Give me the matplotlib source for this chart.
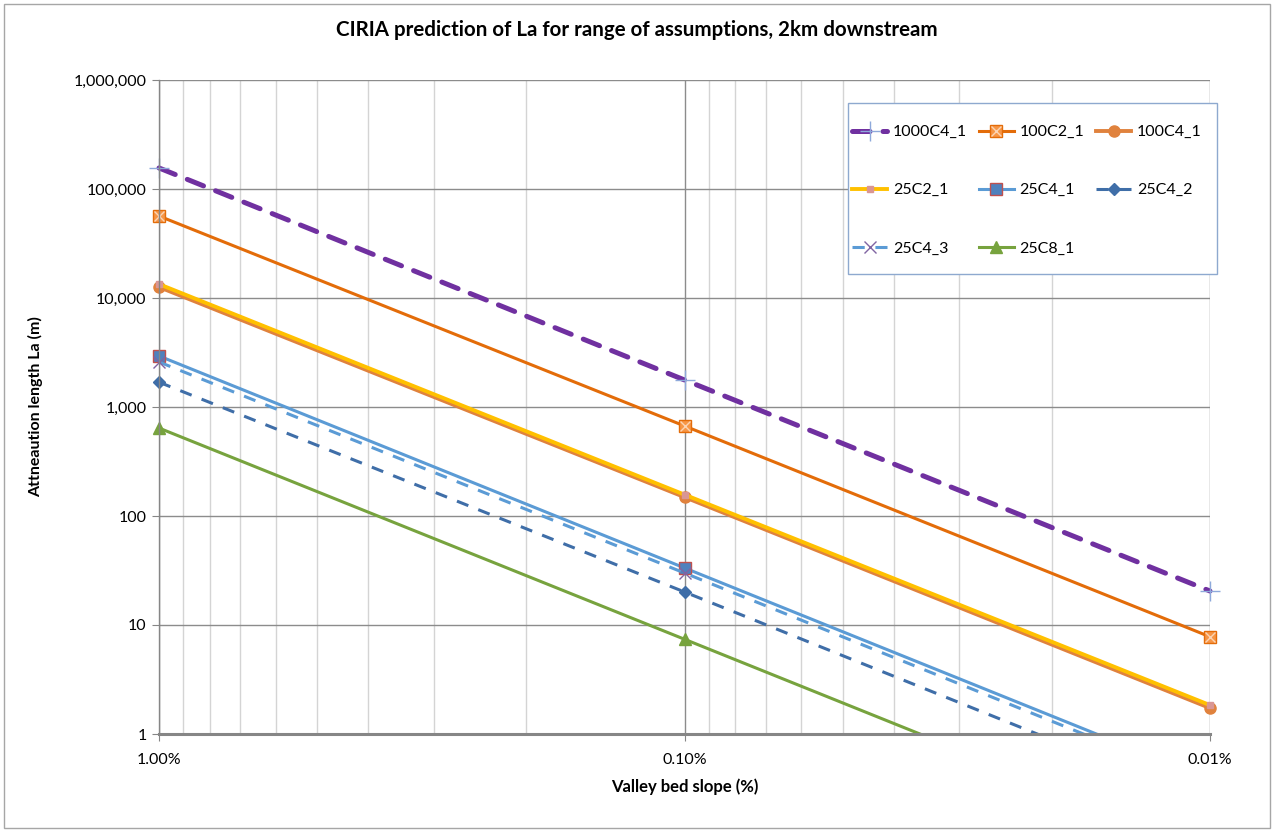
import matplotlib
matplotlib.use("Agg")
import matplotlib.pyplot as plt
import numpy as np
from matplotlib.ticker import FixedLocator, FuncFormatter, NullLocator
from matplotlib.patches import Rectangle

plt.rcParams['font.family'] = ['Lato', 'DejaVu Sans']

# valley bed slope (%) and attenuation length La (m) per series
slope = [1.0, 0.1, 0.01]
la_1000c4_1 = [156000, 1770, 20.5]
la_100c2_1 = [56500, 670, 7.8]
la_100c4_1 = [12600, 149, 1.73]
la_25c2_1 = [13400, 157, 1.84]
la_25c4_1 = [2940, 33.4, 0.38]
la_25c4_2 = [1690, 20.1, 0.23]
la_25c4_3 = [2590, 30.0, 0.34]
la_25c8_1 = [641, 7.4, 0.085]

x_ticks = [1.0, 0.1, 0.01]
x_labels = ['1.00%', '0.10%', '0.01%']
y_ticks = [1, 10, 100, 1000, 10000, 100000, 1000000]

W, H = 1274, 832
fig = plt.figure(figsize=(W / 100, H / 100), dpi=100)
ax = fig.add_axes([159 / W, 1 - 734 / H, (1210 - 159) / W, (734 - 80) / H])

# series, in the order the spreadsheet draws them
l1, = ax.plot(slope, la_1000c4_1, color='#7030A0', lw=3.6, dashes=(3.5, 2.6),
              dash_capstyle='round', marker='+', ms=14, mew=1.0, mec='#8EA9DB',
              label='1000C4_1')
l2, = ax.plot(slope, la_100c2_1, color='#E36C09', lw=2.2, marker='s', ms=9,
              mfc='#F79646', mec='#E36C09', label='100C2_1')
l2x, = ax.plot(slope, la_100c2_1, ls='none', marker='x', ms=7, mew=1.0, mec='#FBD4B4')
l3, = ax.plot(slope, la_100c4_1, color='#E0823D', lw=2.8, marker='o', ms=8,
              mfc='#E0823D', mec='#E0823D', label='100C4_1')
l4, = ax.plot(slope, la_25c2_1, color='#FFC000', lw=2.8, marker='s', ms=4,
              mfc='#D99694', mec='#D99694', label='25C2_1')
l5, = ax.plot(slope, la_25c4_1, color='#5B9BD5', lw=2.2, marker='s', ms=8,
              mfc='#4F81BD', mec='#C0504D', mew=1.0, label='25C4_1')
l6, = ax.plot(slope, la_25c4_2, color='#3F6EA8', lw=2.2, dashes=(4, 3.5),
              marker='D', ms=6, mfc='#3F6EA8', mec='#3F6EA8', label='25C4_2')
l7, = ax.plot(slope, la_25c4_3, color='#5B9BD5', lw=2.2, dashes=(4, 3.5),
              marker='x', ms=8, mew=1.0, mec='#8064A2', label='25C4_3')
l8, = ax.plot(slope, la_25c8_1, color='#77A33E', lw=2.2, marker='^', ms=8,
              mfc='#77A33E', mec='#77A33E', label='25C8_1')

# let the end markers spill over the left/right edges like in Excel
for ln in [l1, l2, l2x, l3, l4, l5, l6, l7, l8]:
    ln.set_clip_path(Rectangle((-0.03, 0), 1.06, 1, transform=ax.transAxes))

ax.set_xscale('log')
ax.set_yscale('log')
ax.set_xlim(1.0, 0.01)
ax.set_ylim(1, 1000000)

ax.xaxis.set_major_locator(FixedLocator(x_ticks))
ax.set_xticklabels(x_labels)
ax.xaxis.set_minor_locator(FixedLocator([m * d for d in (0.1, 0.01) for m in range(2, 10)]))
ax.yaxis.set_major_locator(FixedLocator(y_ticks))
ax.yaxis.set_major_formatter(FuncFormatter(lambda v, p: f"{v:,.0f}"))
ax.yaxis.set_minor_locator(NullLocator())

ax.grid(True, which='major', color='#8C8C8C', lw=1.0)
ax.grid(True, which='minor', axis='x', color='#D4D4D4', lw=1.0)
ax.set_axisbelow(True)
for s in ['top', 'right']:
    ax.spines[s].set_visible(False)
for s in ['left', 'bottom']:
    ax.spines[s].set_color('#868686')
ax.spines['bottom'].set_linewidth(2.2)
ax.spines['left'].set_linewidth(1.0)

ax.tick_params(axis='both', which='major', length=5, color='#868686', labelsize=11.5)
ax.tick_params(axis='x', which='major', pad=9)
ax.tick_params(axis='y', which='major', pad=4)
ax.tick_params(axis='x', which='minor', length=0)

ax.set_xlabel('Valley bed slope (%)', fontsize=12, fontweight='bold', labelpad=8)
ax.set_ylabel('Attneaution length La (m)', fontsize=11.5, fontweight='bold', labelpad=22)
fig.text(0.5, 1 - 30 / H, 'CIRIA prediction of La for range of assumptions, 2km downstream',
         ha='center', va='center', fontsize=14.8, fontweight='bold')

# legend box drawn by hand so the padding can differ per side
ax.add_patch(Rectangle((848 / W, 1 - 274 / H), (1217 - 848) / W, (274 - 103) / H,
                       transform=fig.transFigure, facecolor='white', clip_on=False,
                       edgecolor='#8EA9CF', lw=1.0, zorder=5))
handles = [l1, (l2, l2x), l3, l4, l5, l6, l7, l8]
labels = ['1000C4_1', '100C2_1', '100C4_1', '25C2_1', '25C4_1', '25C4_2', '25C4_3', '25C8_1']
order = [0, 3, 6, 1, 4, 7, 2, 5]
leg = ax.legend([handles[i] for i in order], [labels[i] for i in order], ncol=3,
                loc='upper left', bbox_to_anchor=(852 / W, 1 - 125 / H),
                bbox_transform=fig.transFigure, borderaxespad=0, borderpad=0,
                fontsize=11.5, frameon=False, labelspacing=2.75, handlelength=2.2,
                handletextpad=0.35, columnspacing=0.75)
leg.set_zorder(6)

fig.patches.append(Rectangle((4 / W, 4 / H), 1 - 8 / W, 1 - 8 / H,
                             transform=fig.transFigure, fill=False,
                             edgecolor='#A6A6A6', lw=1.0))

fig.savefig('out.png', dpi=100)
